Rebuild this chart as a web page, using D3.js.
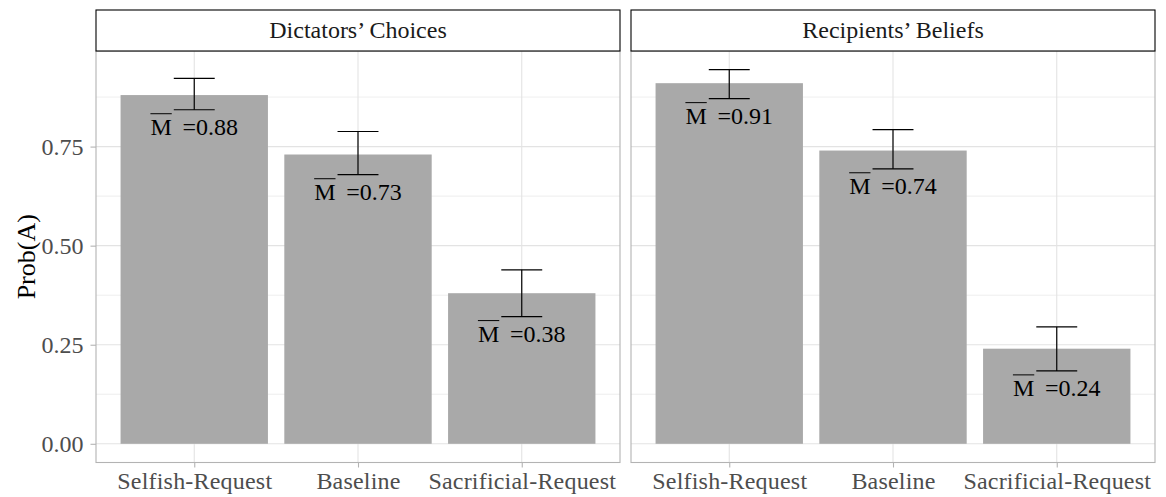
<!DOCTYPE html>
<html>
<head>
<meta charset="utf-8">
<script src="https://cdn.jsdelivr.net/npm/d3@7"></script>
<style>
  body { margin: 0; background: #fff; }
  svg text { font-family: "Liberation Serif", "DejaVu Serif", serif; }
</style>
</head>
<body>
<svg id="chart" width="1166" height="497"></svg>
<script>
// data
const facets = ["Dictators’ Choices", "Recipients’ Beliefs"];
const conditions = ["Selfish-Request", "Baseline", "Sacrificial-Request"];

const dictMean = [0.88, 0.73, 0.38];
const dictLow  = [0.843, 0.679, 0.321];
const dictHigh = [0.922, 0.788, 0.439];

const recMean = [0.91, 0.74, 0.24];
const recLow  = [0.871, 0.694, 0.184];
const recHigh = [0.944, 0.793, 0.295];

const yTicks = [0, 0.25, 0.5, 0.75];
const yMinor = [0.125, 0.375, 0.625, 0.875];

const panels = [
  { name: facets[0], mean: dictMean, low: dictLow, high: dictHigh, x0: 96, x1: 620 },
  { name: facets[1], mean: recMean, low: recLow, high: recHigh, x0: 631, x1: 1155 }
];

const FONT = '"Liberation Serif", "DejaVu Serif", serif';
const svg = d3.select('#chart');

const stripTop = 10, panelTop = 51, panelBottom = 462.5;

// ggplot style 5% expansion around [0, max]
const hi = d3.max([...dictHigh, ...recHigh]);
const y = d3.scaleLinear()
  .domain([-0.05 * hi, 1.05 * hi])
  .range([panelBottom, panelTop]);

const gridCol = '#e3e3e3';
const borderCol = '#b3b3b3';

panels.forEach((p, pi) => {
  const x = d3.scalePoint()
    .domain(conditions)
    .range([p.x0, p.x1])
    .padding(0.6);
  const step = x.step();
  const rows = conditions.map((c, i) => ({ c, mean: p.mean[i], low: p.low[i], high: p.high[i] }));

  const g = svg.append('g');

  // grid
  g.selectAll('.minor').data(yMinor).join('line')
    .attr('x1', p.x0).attr('x2', p.x1)
    .attr('y1', d => y(d)).attr('y2', d => y(d))
    .attr('stroke', gridCol).attr('stroke-width', 0.6);
  g.selectAll('.major').data(yTicks).join('line')
    .attr('x1', p.x0).attr('x2', p.x1)
    .attr('y1', d => y(d)).attr('y2', d => y(d))
    .attr('stroke', gridCol).attr('stroke-width', 1.1);
  g.selectAll('.vgrid').data(conditions).join('line')
    .attr('x1', d => x(d)).attr('x2', d => x(d))
    .attr('y1', panelTop).attr('y2', panelBottom)
    .attr('stroke', gridCol).attr('stroke-width', 1.1);

  // bars
  g.selectAll('rect.bar').data(rows).join('rect')
    .attr('x', d => x(d.c) - 0.45 * step)
    .attr('width', 0.9 * step)
    .attr('y', d => y(d.mean))
    .attr('height', d => y(0) - y(d.mean))
    .attr('fill', '#a9a9a9');

  // error bars
  const eb = g.selectAll('g.eb').data(rows).join('g')
    .attr('stroke', '#000').attr('stroke-width', 1.2);
  const hw = 0.125 * step;
  eb.append('line')
    .attr('x1', d => x(d.c)).attr('x2', d => x(d.c))
    .attr('y1', d => y(d.low)).attr('y2', d => y(d.high));
  eb.append('line')
    .attr('x1', d => x(d.c) - hw).attr('x2', d => x(d.c) + hw)
    .attr('y1', d => y(d.low)).attr('y2', d => y(d.low));
  eb.append('line')
    .attr('x1', d => x(d.c) - hw).attr('x2', d => x(d.c) + hw)
    .attr('y1', d => y(d.high)).attr('y2', d => y(d.high));

  // mean labels, "M" gets an overline drawn from its glyph box
  const lab = g.selectAll('text.lab').data(rows).join('text')
    .attr('x', d => x(d.c))
    .attr('y', d => y(d.low) + 25)
    .attr('text-anchor', 'middle')
    .style('font-family', FONT)
    .style('font-size', '24px')
    .attr('fill', '#000');
  lab.append('tspan').text('M');
  lab.append('tspan').text(d => '\u2009 =' + d.mean.toFixed(2));
  lab.each(function(d) {
    const b = this.getExtentOfChar(0);
    g.append('line')
      .attr('x1', b.x).attr('x2', b.x + b.width)
      .attr('y1', y(d.low) + 4).attr('y2', y(d.low) + 4)
      .attr('stroke', '#000').attr('stroke-width', 1);
  });

  // panel border
  g.append('rect')
    .attr('x', p.x0).attr('y', panelTop)
    .attr('width', p.x1 - p.x0).attr('height', panelBottom - panelTop)
    .attr('fill', 'none').attr('stroke', borderCol).attr('stroke-width', 1.1);

  // strip
  g.append('rect')
    .attr('x', p.x0).attr('y', stripTop)
    .attr('width', p.x1 - p.x0).attr('height', panelTop - stripTop)
    .attr('fill', '#fff').attr('stroke', '#000').attr('stroke-width', 1.1);
  g.append('text')
    .attr('x', (p.x0 + p.x1) / 2).attr('y', stripTop + 28)
    .attr('text-anchor', 'middle')
    .style('font-family', FONT)
    .style('font-size', '24px')
    .attr('fill', '#1a1a1a')
    .text(p.name);

  // x axis
  const xa = g.append('g')
    .attr('transform', `translate(0,${panelBottom})`)
    .call(d3.axisBottom(x).tickSize(5).tickPadding(4));
  xa.select('.domain').remove();
  xa.selectAll('.tick line').attr('stroke', borderCol).attr('stroke-width', 1.1);
  xa.selectAll('.tick text')
    .style('font-family', FONT)
    .style('font-size', '24px')
    .style('letter-spacing', '0.2px')
    .attr('fill', '#4d4d4d');

  // y axis on first panel only
  if (pi === 0) {
    const ya = g.append('g')
      .attr('transform', `translate(${p.x0},0)`)
      .call(d3.axisLeft(y).tickValues(yTicks).tickFormat(d3.format('.2f')).tickSize(5.5).tickPadding(7));
    ya.select('.domain').remove();
    ya.selectAll('.tick line').attr('stroke', borderCol).attr('stroke-width', 1.1);
    ya.selectAll('.tick text')
      .style('font-family', FONT)
      .style('font-size', '24px')
      .attr('fill', '#4d4d4d');
  }
});

svg.append('text')
  .attr('transform', `translate(35,${(panelTop + panelBottom) / 2}) rotate(-90)`)
  .attr('text-anchor', 'middle')
  .style('font-family', FONT)
  .style('font-size', '26px')
  .attr('fill', '#000')
  .text('Prob(A)');
</script>
</body>
</html>
